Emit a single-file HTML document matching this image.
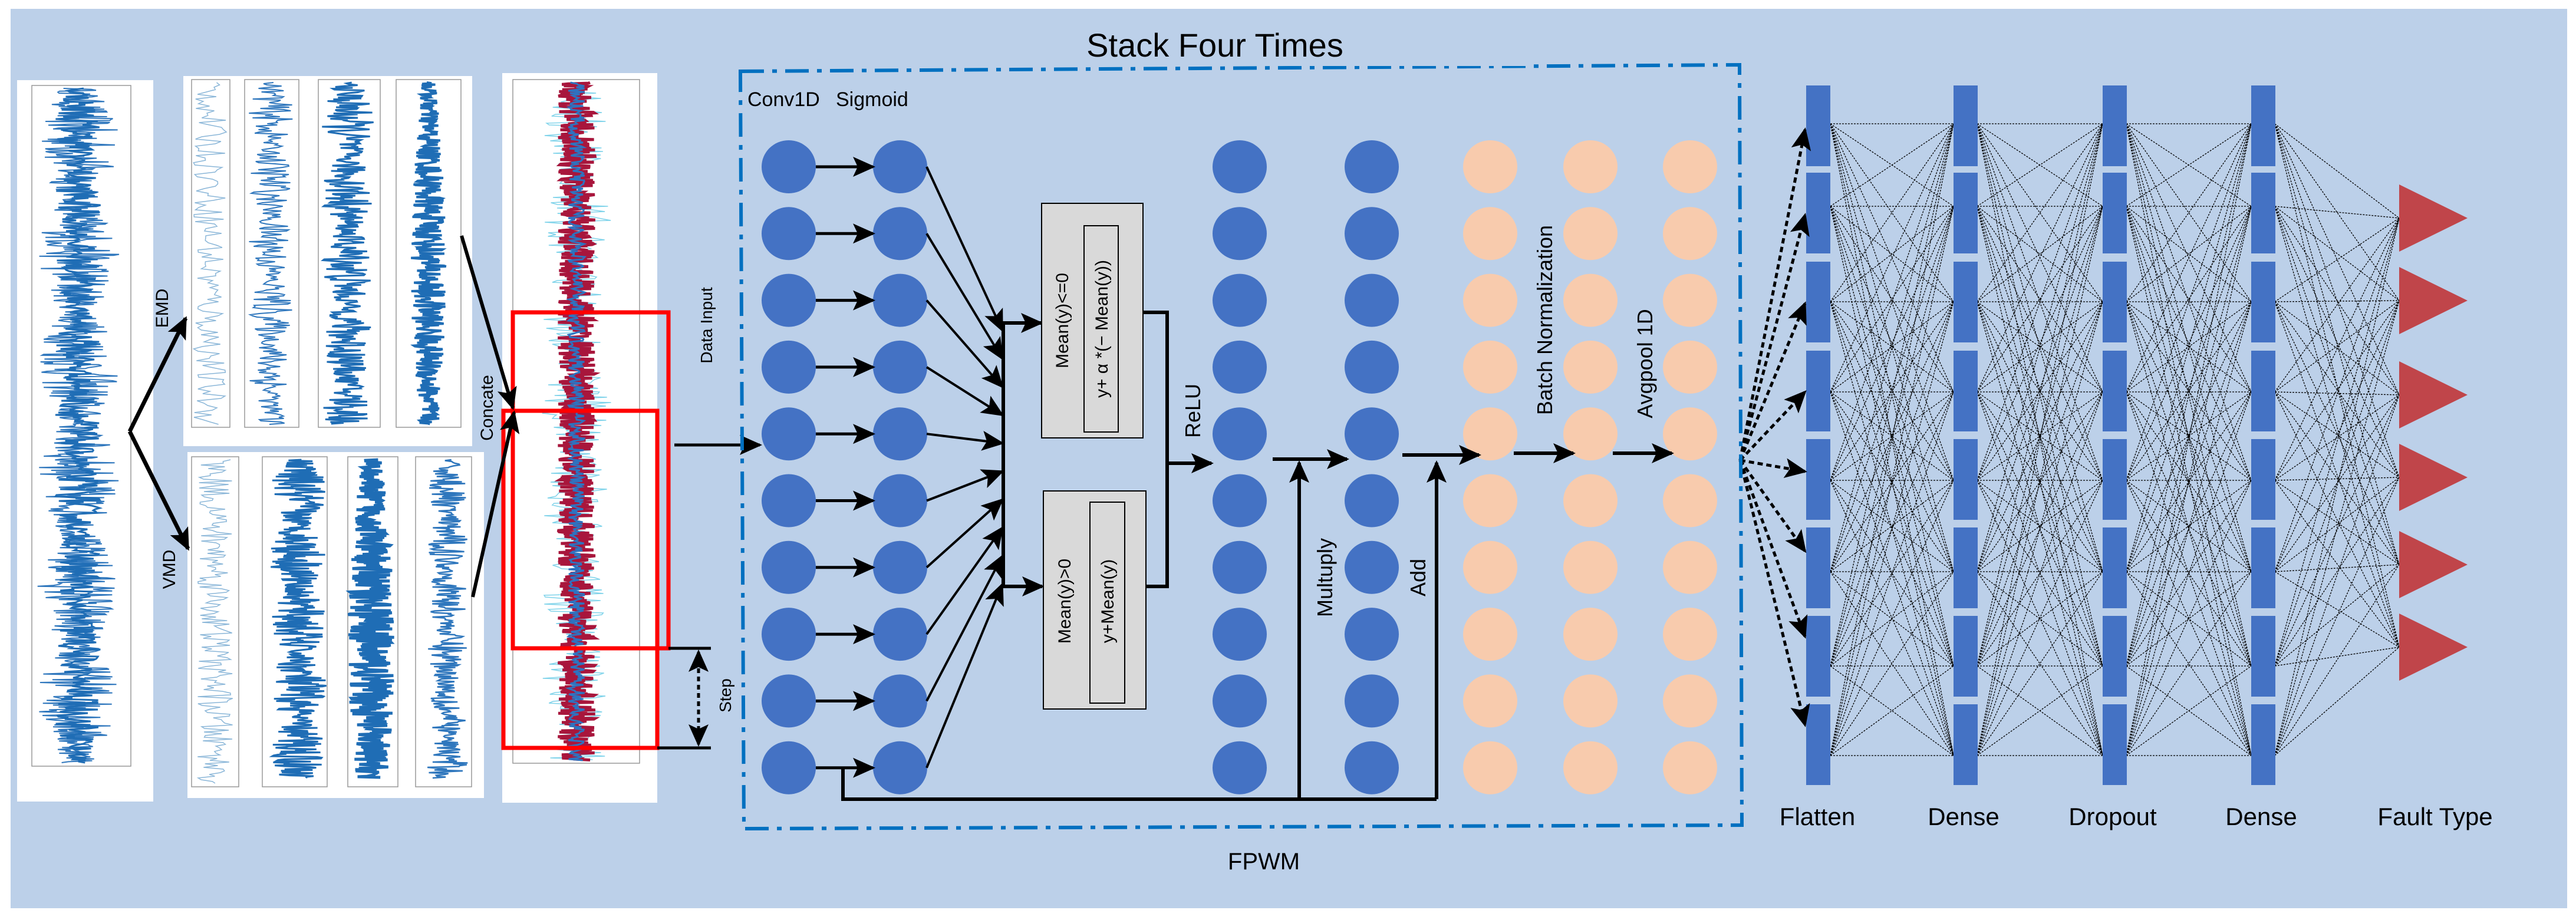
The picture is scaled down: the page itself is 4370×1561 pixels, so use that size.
<!DOCTYPE html>
<html><head><meta charset="utf-8"><style>
html,body{margin:0;padding:0;background:#fff;}
svg{display:block;}
text{font-family:"Liberation Sans","DejaVu Sans",sans-serif;}
</style></head><body>
<svg id="s" width="4370" height="1561" viewBox="0 0 4370 1561" xmlns="http://www.w3.org/2000/svg">
<defs>
<marker id="ab" markerWidth="38" markerHeight="38" refX="34" refY="19" orient="auto" markerUnits="userSpaceOnUse" viewBox="0 0 38 38"><path d="M0,2 L38,19 L0,36 L8,19 z" fill="#000"/></marker>
</defs>
<rect x="18" y="15" width="4337" height="1526" fill="#BCD0E9"/>
<g id="sig"></g>
<g id="net"></g>
<g id="fg"></g>
</svg>
<script>
(function(){
var NS="http://www.w3.org/2000/svg";
function el(p,t,a,txt){var e=document.createElementNS(NS,t);for(var k in a)e.setAttribute(k,a[k]);if(txt!==undefined)e.textContent=txt;document.getElementById(p).appendChild(e);return e;}
var seed=12345;function rnd(){seed=(seed*16807)%2147483647;return seed/2147483647;}
function panel(x,y,w,h){el("sig","rect",{x:x,y:y,width:w,height:h,fill:"#fff"});}
function signal(cx,y0,y1,amp,col,sw,step,burst){
 var pts=[];for(var y=y0;y<=y1;y+=step){var env=burst?(0.45+0.55*Math.abs(Math.sin((y-y0)/burst))):1;var s=(rnd()*2-1)*amp*env;pts.push((cx+s).toFixed(1)+","+y.toFixed(1));}
 el("sig","polyline",{points:pts.join(" "),fill:"none",stroke:col,"stroke-width":sw});
}
function frame(x,y,w,h){el("sig","rect",{x:x,y:y,width:w,height:h,fill:"none",stroke:"#999","stroke-width":1.5});}
panel(29,136,231,1224);frame(54,145,168,1155);
signal(133,150,1295,70,"#2f77bd",2,1.6,60);
signal(133,150,1295,40,"#1f6db5",3,2,40);
panel(311,129,490,628);
frame(325,135,65,590);frame(415,135,92,590);frame(540,135,105,590);frame(672,135,110,590);
signal(356,140,720,28,"#8ab6d8",1.5,4,0);
signal(460,140,720,38,"#2f77bd",2,2,35);
signal(590,140,720,45,"#1f6db5",3,1.5,40);
signal(727,140,720,30,"#1f6db5",4,1.2,200);
panel(318,767,503,587);
frame(325,775,80,560);frame(445,775,110,560);frame(590,775,85,560);frame(705,775,95,560);
signal(365,780,1330,30,"#8ab6d8",1.5,3,0);
signal(506,780,1320,50,"#1f6db5",3,1.3,35);
signal(630,780,1320,40,"#1f6db5",5,1.1,200);
signal(759,780,1320,35,"#2f77bd",2.5,1.5,30);
panel(852,124,263,1238);frame(870,135,215,1160);
signal(978,140,1290,60,"#7fd3ea",1.5,3,50);
signal(978,140,1290,32,"#a8163c",5,1.1,0);
signal(978,140,1290,14,"#2e73c0",3,2,0);
var fl=[3085,3334,3587,3839];
var py=[210,350,512,665,815,970,1130,1282];
var ty=[370,510,670,810,958,1098];
for(var l=0;l<3;l++)for(var i=0;i<8;i++)for(var j=0;j<8;j++)
 el("net","line",{x1:fl[l]+20,y1:py[i],x2:fl[l+1]-20,y2:py[j],stroke:"#000","stroke-width":1.3,"stroke-dasharray":"3 2"});
for(var i=0;i<8;i++)for(var j=0;j<6;j++)
 el("net","line",{x1:fl[3]+20,y1:py[i],x2:4070,y2:ty[j],stroke:"#000","stroke-width":1.3,"stroke-dasharray":"3 2"});
var segY=[145,293,444,595,745,895,1045,1195];
var barX=[3064,3314,3567,3819];
for(var l=0;l<4;l++)for(var i=0;i<8;i++)el("fg","rect",{x:barX[l],y:segY[i],width:41,height:137,fill:"#4472C4"});
for(var j=0;j<6;j++)el("fg","polygon",{points:"4070,"+(ty[j]-57)+" 4186,"+ty[j]+" 4070,"+(ty[j]+57),fill:"#C0454A"});
var fan=[220,365,515,665,800,935,1080,1230];
for(var i=0;i<8;i++)el("fg","line",{x1:2952,y1:781,x2:3062,y2:fan[i],stroke:"#000","stroke-width":5,"stroke-dasharray":"9 6","marker-end":"url(#ab)"});
var rows=[];for(var r=0;r<10;r++)rows.push(283+r*113.3);
function col(cx,fill){for(var r=0;r<10;r++)el("fg","ellipse",{cx:cx,cy:rows[r],rx:46,ry:45,fill:fill});}
col(1338,"#4472C4");col(1527,"#4472C4");col(2103,"#4472C4");col(2327,"#4472C4");
col(2528,"#F8CBAD");col(2698,"#F8CBAD");col(2867,"#F8CBAD");
for(var r=0;r<10;r++)el("fg","line",{x1:1384,y1:rows[r],x2:1481,y2:rows[r],stroke:"#000","stroke-width":5,"marker-end":"url(#ab)"});
for(var r=0;r<10;r++){var ty2=560+r*48;el("fg","line",{x1:1572,y1:rows[r],x2:1700,y2:ty2,stroke:"#000","stroke-width":4,"marker-end":"url(#ab)"});}
})();
</script>
<svg width="4370" height="1561" viewBox="0 0 4370 1561" style="position:absolute;left:0;top:0" xmlns="http://www.w3.org/2000/svg">
<defs>
<marker id="b2" markerWidth="38" markerHeight="38" refX="34" refY="19" orient="auto" markerUnits="userSpaceOnUse" viewBox="0 0 38 38"><path d="M0,2 L38,19 L0,36 L8,19 z" fill="#000"/></marker>
<marker id="b2s" markerWidth="38" markerHeight="38" refX="4" refY="19" orient="auto" markerUnits="userSpaceOnUse" viewBox="0 0 38 38"><path d="M38,2 L0,19 L38,36 L30,19 z" fill="#000"/></marker>
</defs>
<g font-family="Liberation Sans, DejaVu Sans, sans-serif">
<rect x="870" y="530" width="264" height="570" fill="none" stroke="#FF0000" stroke-width="7"/>
<rect x="854" y="697" width="261" height="572" fill="none" stroke="#FF0000" stroke-width="7"/>
<line x1="220" y1="732" x2="315" y2="540" stroke="#000" stroke-width="7" marker-end="url(#b2)"/>
<line x1="220" y1="732" x2="319" y2="931" stroke="#000" stroke-width="7" marker-end="url(#b2)"/>
<text transform="translate(285,523) rotate(-90)" font-size="30" text-anchor="middle">EMD</text>
<text transform="translate(297,966) rotate(-90)" font-size="30" text-anchor="middle">VMD</text>
<line x1="783" y1="400" x2="870" y2="692" stroke="#000" stroke-width="6" marker-end="url(#b2)"/>
<line x1="802" y1="1013" x2="872" y2="700" stroke="#000" stroke-width="6" marker-end="url(#b2)"/>
<text transform="translate(836,692) rotate(-90)" font-size="30" text-anchor="middle">Concate</text>
<line x1="1144" y1="755" x2="1289" y2="755" stroke="#000" stroke-width="5" marker-end="url(#b2)"/>
<text transform="translate(1208,552) rotate(-90)" font-size="28" text-anchor="middle">Data Input</text>
<line x1="1134" y1="1100" x2="1206" y2="1100" stroke="#000" stroke-width="5"/>
<line x1="1115" y1="1269" x2="1206" y2="1269" stroke="#000" stroke-width="5"/>
<line x1="1185" y1="1106" x2="1185" y2="1263" stroke="#000" stroke-width="5" stroke-dasharray="8 6" marker-end="url(#b2)" marker-start="url(#b2s)"/>
<text transform="translate(1240,1180) rotate(-90)" font-size="28" text-anchor="middle">Step</text>
<polygon points="1256,121 2951,110 2955,1400 1262,1406" fill="none" stroke="#0070C0" stroke-width="6" stroke-dasharray="40 14 8 14"/>
<rect x="1535" y="50" width="1060" height="62" fill="#BCD0E9"/>
<text x="2061" y="96" font-size="56" text-anchor="middle">Stack Four Times</text>
<text x="1268" y="180" font-size="34">Conv1D</text>
<text x="1418" y="180" font-size="34">Sigmoid</text>
<text x="2144" y="1475" font-size="40" text-anchor="middle">FPWM</text>
<polyline points="1702,548 1702,995" fill="none" stroke="#000" stroke-width="6"/>
<line x1="1700" y1="548" x2="1766" y2="548" stroke="#000" stroke-width="6" marker-end="url(#b2)"/>
<line x1="1700" y1="995" x2="1768" y2="995" stroke="#000" stroke-width="6" marker-end="url(#b2)"/>
<rect x="1767" y="345" width="172" height="398" fill="#D9D9D9" stroke="#000" stroke-width="2"/>
<rect x="1839" y="383" width="58" height="350" fill="none" stroke="#000" stroke-width="2"/>
<text transform="translate(1812,544) rotate(-90)" font-size="30" text-anchor="middle">Mean(y)&lt;=0</text>
<text transform="translate(1879,558) rotate(-90)" font-size="30" text-anchor="middle">y+ α *(− Mean(y))</text>
<rect x="1770" y="833" width="174" height="370" fill="#D9D9D9" stroke="#000" stroke-width="2"/>
<rect x="1849" y="852" width="59" height="341" fill="none" stroke="#000" stroke-width="2"/>
<text transform="translate(1816,1020) rotate(-90)" font-size="30" text-anchor="middle">Mean(y)&gt;0</text>
<text transform="translate(1889,1020) rotate(-90)" font-size="30" text-anchor="middle">y+Mean(y)</text>
<polyline points="1940,530 1980,530 1980,995 1944,995" fill="none" stroke="#000" stroke-width="6"/>
<line x1="1980" y1="786" x2="2055" y2="786" stroke="#000" stroke-width="6" marker-end="url(#b2)"/>
<text transform="translate(2036,697) rotate(-90)" font-size="36" text-anchor="middle">ReLU</text>
<line x1="2159" y1="779" x2="2285" y2="779" stroke="#000" stroke-width="6" marker-end="url(#b2)"/>
<line x1="2204" y1="1356" x2="2204" y2="785" stroke="#000" stroke-width="6" marker-end="url(#b2)"/>
<text transform="translate(2260,980) rotate(-90)" font-size="36" text-anchor="middle">Multuply</text>
<line x1="2379" y1="772" x2="2509" y2="772" stroke="#000" stroke-width="6" marker-end="url(#b2)"/>
<line x1="2437" y1="1356" x2="2437" y2="785" stroke="#000" stroke-width="6" marker-end="url(#b2)"/>
<text transform="translate(2418,980) rotate(-90)" font-size="36" text-anchor="middle">Add</text>
<polyline points="1430,1303 1430,1356 2437,1356" fill="none" stroke="#000" stroke-width="6"/>
<line x1="2568" y1="769" x2="2669" y2="769" stroke="#000" stroke-width="6" marker-end="url(#b2)"/>
<text transform="translate(2633,543) rotate(-90)" font-size="36" text-anchor="middle">Batch Normalization</text>
<line x1="2736" y1="769" x2="2836" y2="769" stroke="#000" stroke-width="6" marker-end="url(#b2)"/>
<text transform="translate(2803,617) rotate(-90)" font-size="36" text-anchor="middle">Avgpool 1D</text>
<text x="3083" y="1400" font-size="42" text-anchor="middle">Flatten</text>
<text x="3331" y="1400" font-size="42" text-anchor="middle">Dense</text>
<text x="3584" y="1400" font-size="42" text-anchor="middle">Dropout</text>
<text x="3836" y="1400" font-size="42" text-anchor="middle">Dense</text>
<text x="4131" y="1400" font-size="42" text-anchor="middle">Fault Type</text>
</g>
</svg>
</body></html>
